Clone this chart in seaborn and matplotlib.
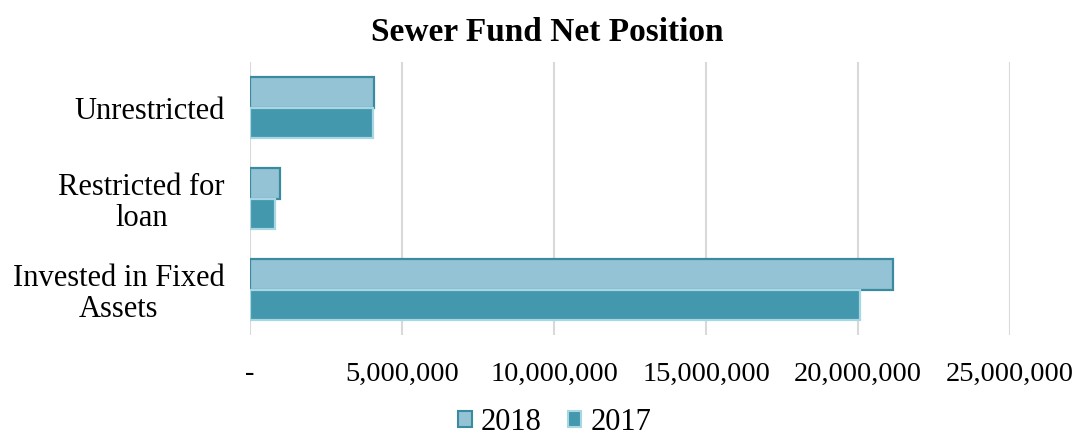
import matplotlib
matplotlib.use("Agg")
import matplotlib.pyplot as plt
import seaborn as sns
import pandas as pd
from matplotlib.ticker import FuncFormatter, MultipleLocator
from matplotlib.patches import Patch

categories = ["Unrestricted", "Restricted for\nloan", "Invested in Fixed\nAssets"]
values_2018 = [4070000, 980000, 21130000]
values_2017 = [4040000, 830000, 20050000]
years = ["2018", "2017"]

df = pd.DataFrame({
    "Category": categories * 2,
    "Value": values_2018 + values_2017,
    "Year": [years[0]] * 3 + [years[1]] * 3,
})

sns.set_theme(style="white")
plt.rcParams["font.family"] = ["Liberation Serif", "DejaVu Serif"]
plt.rcParams["text.color"] = "black"

fill = {"2018": "#93C3D5", "2017": "#4398AE"}
edge = {"2018": "#3A8AA0", "2017": "#A8D6E2"}

fig = plt.figure(figsize=(10.77, 4.38), dpi=100)
ax = fig.add_axes([0.232, 0.235, 0.706, 0.623])

sns.barplot(data=df, y="Category", x="Value", hue="Year", hue_order=years,
            palette=fill, saturation=1, orient="h", width=0.667, ax=ax, legend=False)

for container, yr in zip(ax.containers, years):
    for bar in container:
        bar.set_edgecolor(edge[yr])
        bar.set_linewidth(1.6)

ax.set_xlim(0, 25000000)
ax.xaxis.set_major_locator(MultipleLocator(5000000))
ax.xaxis.set_major_formatter(FuncFormatter(lambda v, p: "-" if v == 0 else f"{int(v):,}"))
ax.grid(axis="x", color="#D9D9D9", linewidth=1.5)
ax.set_axisbelow(True)
for s in ax.spines.values():
    s.set_visible(False)
ax.set_xlabel("")
ax.set_ylabel("")
ax.tick_params(axis="x", labelsize=20.5, length=0, pad=19, colors="#000000")
ax.tick_params(axis="y", labelsize=22, length=0, pad=18, colors="#000000")
ax.set_yticks(range(3))
ax.set_yticklabels(categories)
for lbl in ax.get_yticklabels():
    lbl.set_horizontalalignment("right")
    lbl.set_multialignment("center")
    lbl.set_linespacing(1.08)

fig.suptitle("Sewer Fund Net Position", x=0.508, y=0.962, fontsize=24,
             fontweight="bold", color="black")

handles = [Patch(facecolor=fill[y], edgecolor=edge[y], linewidth=1.5, label=y) for y in years]
fig.legend(handles=handles, loc="center", bbox_to_anchor=(0.515, 0.035), ncol=2,
           frameon=False, fontsize=22, handlelength=0.45, handleheight=0.45,
           handletextpad=0.3, columnspacing=0.85)

fig.savefig("out.png", dpi=100)
